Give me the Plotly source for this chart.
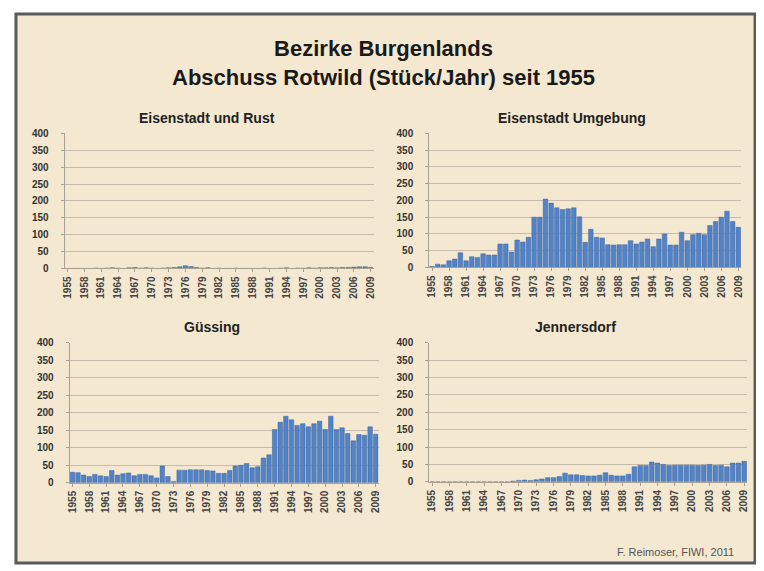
import plotly.graph_objects as go

years = list(range(1955, 2010))
tick_years = [1955, 1958, 1961, 1964, 1967, 1970, 1973, 1976, 1979, 1982,
              1985, 1988, 1991, 1994, 1997, 2000, 2003, 2006, 2009]

eisenstadt_rust = [0, 0, 0, 0, 0, 1, 0, 1, 2, 1, 0, 2, 3, 1, 2, 1, 0, 1, 2, 3,
                   5, 8, 6, 3, 1, 2, 0, 1, 0, 0, 1, 0, 0, 0, 0, 1, 0, 0, 1, 2,
                   0, 1, 1, 2, 1, 2, 2, 3, 2, 3, 3, 4, 5, 5, 3]
eisenstadt_umgebung = [3, 10, 8, 20, 25, 44, 20, 32, 30, 41, 37, 37, 70, 70, 46, 82, 76, 90, 150, 150,
                       204, 192, 178, 173, 175, 178, 151, 75, 114, 90, 88, 68, 67, 68, 68, 80, 70, 76, 85, 62,
                       85, 100, 67, 67, 105, 80, 98, 102, 98, 125, 137, 150, 168, 137, 120]
guessing = [30, 29, 22, 18, 24, 20, 18, 35, 22, 26, 28, 20, 24, 24, 20, 14, 48, 18, 4, 36,
            36, 37, 37, 37, 35, 34, 27, 27, 35, 48, 50, 55, 43, 46, 71, 80, 152, 173, 190, 180,
            164, 169, 160, 169, 176, 152, 190, 152, 157, 141, 120, 138, 136, 160, 139]
jennersdorf = [0, 0, 0, 0, 0, 0, 0, 0, 0, 0, 0, 0, 0, 0, 2, 4, 5, 4, 6, 8,
               12, 12, 15, 25, 20, 20, 18, 17, 17, 19, 26, 19, 17, 17, 22, 43, 47, 47, 57, 54,
               50, 47, 48, 48, 48, 48, 47, 48, 50, 47, 48, 43, 54, 54, 59]

# page body has an 8px margin, so the figure is drawn at (8, 8)
W, H, OFF = 756, 563, 8


def px(x):
    return (x - OFF) / W


def py(y):
    return 1 - (y - OFF) / H


# (title, values, left, right, top of 400, zero line, title centre) in page pixels
panels = [
    ("Eisenstadt und Rust", eisenstadt_rust, 62, 373, 130, 268, 205),
    ("Eisenstadt Umgebung", eisenstadt_umgebung, 429, 743, 130, 267, 573),
    ("Güssing", guessing, 67, 378, 344, 487, 210),
    ("Jennersdorf", jennersdorf, 429, 749, 344, 486, 576),
]

BG = "#F4E8D0"
BAR = "#5283C6"
GRID = "#C4BBAA"
FONT = "Liberation Sans, Arial, sans-serif"

fig = go.Figure()
annotations = []
for i, (name, vals, x0, x1, ytop, ybot, tx) in enumerate(panels):
    n = "" if i == 0 else str(i + 1)
    xd = [px(x0), px(x1)]
    yd = [py(ybot), py(ytop)]
    fig.add_trace(go.Bar(
        x=years, y=vals, xaxis="x" + n, yaxis="y" + n,
        marker=dict(color=BAR, line=dict(color="#3A63A3", width=0.5)),
        showlegend=False,
    ))
    fig.layout["xaxis" + n] = dict(
        domain=xd, anchor="y" + n, range=[1954.5, 2009.5],
        tickvals=tick_years, ticktext=[str(t) for t in tick_years],
        tickangle=-90, tickfont=dict(size=10, color="#444", family=FONT, weight="bold"),
        showline=True, linecolor="#A8A090", linewidth=1,
        ticks="outside", ticklen=3, tickcolor="#A8A090",
        showgrid=False, zeroline=False, fixedrange=True,
    )
    fig.layout["yaxis" + n] = dict(
        domain=yd, anchor="x" + n, range=[0, 400], dtick=50,
        tickfont=dict(size=10, color="#333", family=FONT, weight="bold"),
        showline=True, linecolor="#A8A090", linewidth=1,
        ticks="outside", ticklen=3, tickcolor="#A8A090", ticklabelstandoff=10,
        showgrid=True, gridcolor=GRID, gridwidth=1, zeroline=False, fixedrange=True,
    )
    annotations.append(dict(
        text="<b>" + name + "</b>", xref="paper", yref="paper",
        x=px(tx), y=py(ytop - 6), xanchor="center", yanchor="bottom",
        showarrow=False, font=dict(size=14, color="#222", family=FONT),
    ))

annotations.append(dict(
    text="<b>Bezirke Burgenlands<br>Abschuss Rotwild (Stück/Jahr) seit 1955</b>",
    xref="paper", yref="paper", x=px(383), y=py(58), xanchor="center", yanchor="middle",
    showarrow=False, align="center", font=dict(size=22, color="#1a1a1a", family=FONT),
))
annotations.append(dict(
    text="F. Reimoser, FIWI, 2011", xref="paper", yref="paper",
    x=px(738), y=py(558), xanchor="right", yanchor="middle",
    showarrow=False, font=dict(size=11, color="#555", family=FONT),
))

fig.update_layout(
    width=W, height=H,
    margin=dict(l=0, r=0, t=0, b=0),
    paper_bgcolor="white", plot_bgcolor="rgba(0,0,0,0)",
    bargap=0.2,
    annotations=annotations,
    shapes=[dict(
        type="rect", xref="paper", yref="paper", layer="below",
        x0=px(13), x1=px(757), y0=py(569), y1=py(8),
        fillcolor=BG, line=dict(color="#5A5A5A", width=3),
    )],
)

fig.write_html("out.html")
